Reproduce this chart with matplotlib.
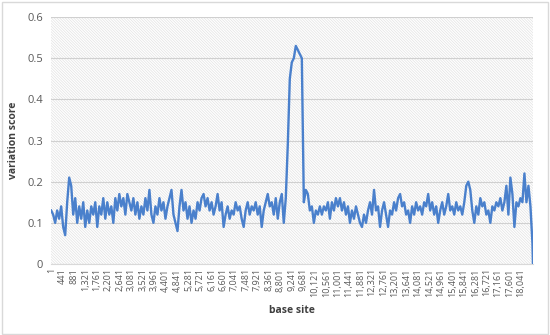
import numpy as np
import matplotlib
matplotlib.use("Agg")
from matplotlib import pyplot as plt
from matplotlib.patches import Rectangle

scores = [
    0.13, 0.12, 0.10, 0.13, 0.11, 0.14, 0.09, 0.07, 0.15, 0.21,
    0.19, 0.12, 0.16, 0.10, 0.14, 0.11, 0.15, 0.09, 0.13, 0.10,
    0.14, 0.12, 0.15, 0.09, 0.14, 0.12, 0.16, 0.11, 0.15, 0.12,
    0.14, 0.10, 0.16, 0.13, 0.17, 0.14, 0.16, 0.12, 0.17, 0.15,
    0.13, 0.16, 0.12, 0.15, 0.11, 0.14, 0.12, 0.16, 0.13, 0.18,
    0.12, 0.10, 0.14, 0.12, 0.16, 0.13, 0.15, 0.11, 0.14, 0.16,
    0.18, 0.12, 0.10, 0.08, 0.14, 0.18, 0.13, 0.15, 0.11, 0.14,
    0.10, 0.13, 0.11, 0.15, 0.13, 0.16, 0.17, 0.14, 0.16, 0.13,
    0.15, 0.12, 0.14, 0.17, 0.13, 0.15, 0.09, 0.12, 0.14, 0.11,
    0.13, 0.12, 0.15, 0.13, 0.14, 0.11, 0.09, 0.13, 0.15, 0.12,
    0.14, 0.13, 0.15, 0.12, 0.14, 0.09, 0.13, 0.15, 0.17, 0.14,
    0.15, 0.12, 0.16, 0.11, 0.15, 0.17, 0.10, 0.16, 0.29, 0.45,
    0.49, 0.50, 0.53, 0.52, 0.51, 0.50, 0.15, 0.18, 0.17, 0.13,
    0.14, 0.10, 0.13, 0.12, 0.14, 0.12, 0.14, 0.13, 0.15, 0.11,
    0.15, 0.13, 0.16, 0.14, 0.16, 0.13, 0.15, 0.12, 0.14, 0.10,
    0.13, 0.11, 0.14, 0.12, 0.10, 0.09, 0.12, 0.10, 0.13, 0.15,
    0.12, 0.18, 0.13, 0.14, 0.09, 0.13, 0.15, 0.12, 0.09, 0.13,
    0.12, 0.15, 0.13, 0.16, 0.17, 0.14, 0.15, 0.12, 0.13, 0.10,
    0.14, 0.12, 0.15, 0.13, 0.14, 0.12, 0.15, 0.14, 0.17, 0.13,
    0.15, 0.12, 0.14, 0.10, 0.13, 0.15, 0.12, 0.14, 0.17, 0.13,
    0.14, 0.12, 0.15, 0.13, 0.14, 0.12, 0.15, 0.19, 0.20, 0.18,
    0.13, 0.10, 0.14, 0.12, 0.16, 0.14, 0.15, 0.12, 0.13, 0.10,
    0.14, 0.13, 0.15, 0.14, 0.16, 0.13, 0.15, 0.19, 0.12, 0.21,
    0.17, 0.09, 0.15, 0.14, 0.16, 0.15, 0.22, 0.15, 0.19, 0.14,
    0.05,
]
last_site = 18500
last_score = 0.0

tick_sites = list(range(1, 18042, 440))
tick_labels = [f"{s:,}" for s in tick_sites]
y_ticks = [0, 0.1, 0.2, 0.3, 0.4, 0.5, 0.6]

sites = np.append(1 + 77 * np.arange(len(scores)), last_site)
values = np.append(scores, last_score)

plt.rcParams['font.family'] = ['Open Sans', 'DejaVu Sans']
plt.rcParams['hatch.linewidth'] = 0.5
plt.rcParams['hatch.color'] = '#e2e2e2'

fig = plt.figure(figsize=(5.5, 3.35), dpi=100)
fig.patches.append(Rectangle((0.003, 0.004), 0.994, 0.99, transform=fig.transFigure,
                             fill=False, edgecolor='#d9d9d9', linewidth=1))
ax = fig.add_axes([0.093, 0.212, 0.876, 0.737])
ax.patch.set_facecolor('white')
ax.patch.set_hatch('\\' * 12)
ax.patch.set_edgecolor('#e2e2e2')

ax.plot(sites, values, color='#4a80cc', linewidth=1.7, zorder=3)

ax.set_xlim(1, last_site)
ax.set_ylim(0, 0.6)
ax.set_yticks(y_ticks)
ax.set_yticklabels(["0", "0.1", "0.2", "0.3", "0.4", "0.5", "0.6"])
ax.set_xticks(tick_sites)
ax.set_xticklabels(tick_labels, rotation=90)
ax.grid(axis='y', color='#d0d0d0', linewidth=0.8, zorder=1)
ax.set_axisbelow(True)
for side in ['top', 'right', 'left']:
    ax.spines[side].set_visible(False)
ax.spines['bottom'].set_color('#d9d9d9')
ax.tick_params(axis='y', length=0, labelsize=8, labelcolor='#595959', pad=6)
ax.tick_params(axis='x', length=0, labelsize=6.5, labelcolor='#595959', pad=3)

ax.set_xlabel("base site", fontsize=7.5, fontweight='bold', color='#404040', labelpad=6)
ax.set_ylabel("variation score", fontsize=7.5, fontweight='bold', color='#404040', labelpad=6)

fig.savefig("out.png", dpi=100)
